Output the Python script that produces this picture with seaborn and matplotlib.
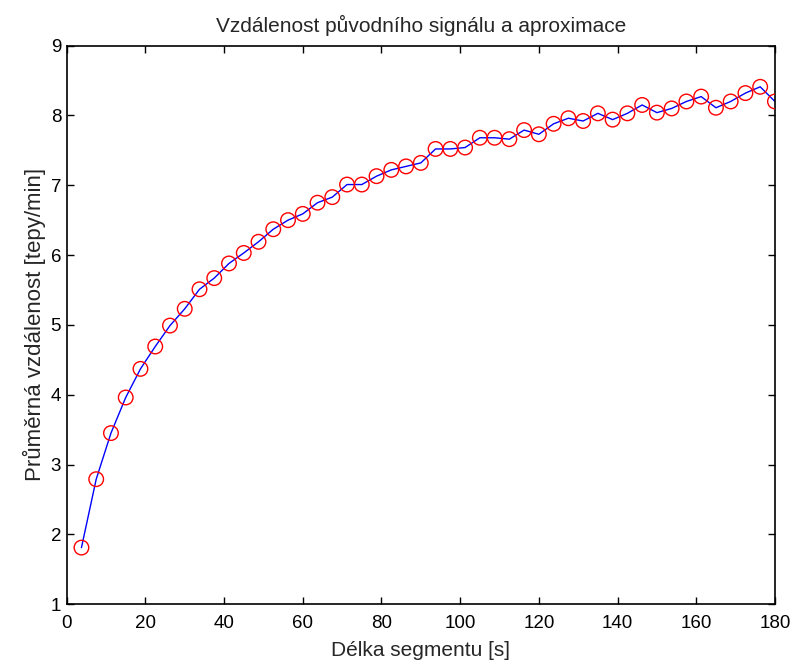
import numpy as np
import pandas as pd
import matplotlib
matplotlib.use("Agg")
import matplotlib.pyplot as plt
import seaborn as sns

# Data
segment_length = [3.75 * k for k in range(1, 49)]
mean_distance = [
    1.81, 2.79, 3.45, 3.96, 4.37, 4.69, 4.99, 5.23, 5.51, 5.67,
    5.88, 6.03, 6.19, 6.37, 6.50, 6.59, 6.75, 6.83, 7.01, 7.01,
    7.13, 7.22, 7.27, 7.32, 7.52, 7.52, 7.54, 7.68, 7.68, 7.66,
    7.79, 7.73, 7.88, 7.96, 7.92, 8.03, 7.94, 8.03, 8.15, 8.04,
    8.10, 8.20, 8.27, 8.11, 8.20, 8.32, 8.41, 8.20,
]
x_ticks = [0, 20, 40, 60, 80, 100, 120, 140, 160, 180]
y_ticks = [1, 2, 3, 4, 5, 6, 7, 8, 9]

df = pd.DataFrame({"x": segment_length, "y": mean_distance})

sns.set_theme(style="white")
plt.rcParams["font.family"] = ["Liberation Sans", "DejaVu Sans"]

fig = plt.figure(figsize=(7.94, 6.61), dpi=100)
ax = fig.add_axes([0.084, 0.086, 0.892, 0.845])

sns.lineplot(data=df, x="x", y="y", ax=ax, color="blue", linewidth=1.0, sort=False)
sns.scatterplot(data=df, x="x", y="y", ax=ax, marker="o", s=110,
                facecolors="none", edgecolor="red", linewidth=1.0, zorder=3)

ax.set_xlim(0, 180)
ax.set_ylim(1, 9)
ax.set_xticks(x_ticks)
ax.set_yticks(y_ticks)
ax.tick_params(direction="in", length=5, width=1, labelsize=13.5, colors="black",
               top=True, right=True, bottom=True, left=True, pad=4)
ax.tick_params(axis="x", pad=8)
for s in ax.spines.values():
    s.set_visible(True)
    s.set_color("black")
    s.set_linewidth(1.2)

ax.set_title("Vzdálenost původního signálu a aproximace", fontsize=15, pad=10)
ax.set_xlabel("Délka segmentu [s]", fontsize=15, labelpad=6)
ax.set_ylabel("Průměrná vzdálenost [tepy/min]", fontsize=16, labelpad=3)

fig.savefig("out.png", dpi=100, facecolor="white")
